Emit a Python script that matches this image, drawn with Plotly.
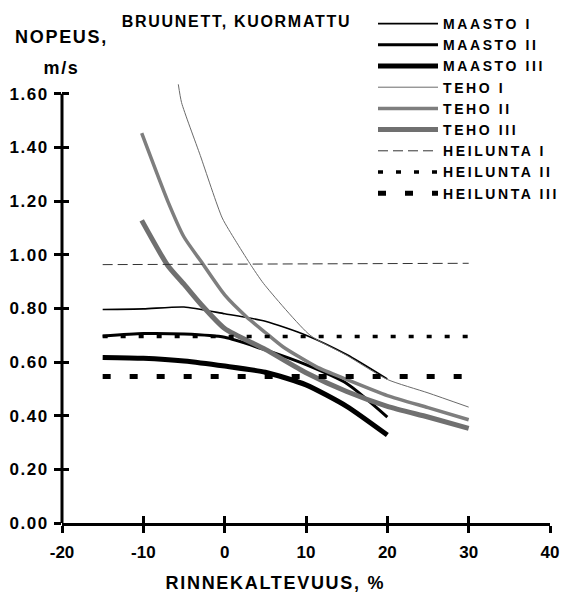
import plotly.graph_objects as go

# ---------------- data ----------------
slope_maasto = [-15, -10, -5, 0, 5, 10, 15, 20]
maasto_1 = [0.796, 0.798, 0.805, 0.780, 0.752, 0.700, 0.628, 0.537]
maasto_2 = [0.697, 0.706, 0.704, 0.692, 0.645, 0.590, 0.520, 0.395]
maasto_3 = [0.617, 0.614, 0.604, 0.585, 0.562, 0.515, 0.435, 0.328]

slope_teho_1 = [-5.7, -5.3, -3, -0.3, 1.3, 3.1, 4.8, 10.5, 15, 20, 25, 30]
teho_1 = [1.635, 1.567, 1.37, 1.137, 1.054, 0.967, 0.892, 0.700, 0.625, 0.535, 0.485, 0.432]

slope_teho_2 = [-10.2, -7, -5, -3, 0, 2.7, 5, 7.2, 11.3, 15, 20, 25, 30]
teho_2 = [1.453, 1.20, 1.066, 0.979, 0.85, 0.768, 0.71, 0.656, 0.582, 0.535, 0.475, 0.43, 0.385]

slope_teho_3 = [-10.2, -7, -5, -3, 0, 5, 10, 15, 20, 25, 30]
teho_3 = [1.128, 0.96, 0.89, 0.818, 0.725, 0.647, 0.56, 0.49, 0.435, 0.395, 0.353]

slope_heil = [-15, 30]
heil_1 = [0.963, 0.968]
heil_2 = [0.695, 0.695]
heil_3 = [0.546, 0.546]

x_ticks = [-20, -10, 0, 10, 20, 30, 40]
y_ticks = [0.0, 0.2, 0.4, 0.6, 0.8, 1.0, 1.2, 1.4, 1.6]

# ---------------- layout constants ----------------
W, H = 562, 594
ML, MR, MT, MB = 62, 12, 83, 71
FONT = "Liberation Sans, Arial, sans-serif"


def paper(xp, yp):
    return (xp - ML) / (W - ML - MR), (H - MB - yp) / (H - MT - MB)


series = [
    ("MAASTO I", slope_maasto, maasto_1, dict(color="black", width=1.6)),
    ("MAASTO II", slope_maasto, maasto_2, dict(color="black", width=3)),
    ("MAASTO III", slope_maasto, maasto_3, dict(color="black", width=5)),
    ("TEHO I", slope_teho_1, teho_1, dict(color="#6a6a6a", width=1)),
    ("TEHO II", slope_teho_2, teho_2, dict(color="#7e7e7e", width=3.5)),
    ("TEHO III", slope_teho_3, teho_3, dict(color="#707070", width=5)),
    ("HEILUNTA I", slope_heil, heil_1, dict(color="#333333", width=1, dash="10px,5px")),
    ("HEILUNTA II", slope_heil, heil_2, dict(color="black", width=3.5, dash="5px,13px")),
    ("HEILUNTA III", slope_heil, heil_3, dict(color="black", width=5, dash="8px,19px")),
]

fig = go.Figure()
for name, xs, ys, line in series:
    shape = "linear" if name.startswith("HEIL") else "spline"
    fig.add_trace(go.Scatter(
        x=xs, y=ys, name=name, mode="lines",
        line=dict(shape=shape, smoothing=0.6, **line),
        hoverinfo="skip",
    ))

# dummy trace so the overlay axes (inside half of the crossing ticks) render
fig.add_trace(go.Scatter(x=[None], y=[None], xaxis="x2", yaxis="y2",
                         showlegend=False, hoverinfo="skip"))

tickfont = dict(family=FONT, size=17, color="black", weight="bold")

fig.update_layout(
    width=W, height=H,
    margin=dict(l=ML, r=MR, t=MT, b=MB, pad=0, autoexpand=False),
    paper_bgcolor="white", plot_bgcolor="white",
    showlegend=True,
    legend=dict(
        xref="container", yref="container",
        x=373 / W, y=1 - 8 / H, xanchor="left", yanchor="top",
        font=dict(family=FONT, size=14, color="black", weight="bold"),
        itemwidth=60, bgcolor="rgba(0,0,0,0)", borderwidth=0,
        tracegroupgap=0, entrywidth=120, entrywidthmode="pixels",
    ),
    xaxis=dict(
        range=[-20, 40], tickvals=x_ticks, ticktext=[str(v) for v in x_ticks],
        showgrid=False, zeroline=False, showline=True, linecolor="black", linewidth=3,
        ticks="outside", ticklen=7, tickwidth=3, tickcolor="black",
        tickfont=tickfont, ticklabelstandoff=5,
    ),
    yaxis=dict(
        range=[0, 1.64], tickvals=y_ticks, ticktext=[f"{v:.2f}" for v in y_ticks],
        showgrid=False, zeroline=False, showline=False,
        ticks="outside", ticklen=7, tickwidth=3, tickcolor="black",
        tickfont=tickfont, ticklabelstandoff=2,
    ),
    xaxis2=dict(
        overlaying="x", anchor="y", side="bottom", range=[-20, 40], tickvals=x_ticks,
        showgrid=False, zeroline=False, showline=False, showticklabels=False,
        ticks="inside", ticklen=7, tickwidth=3, tickcolor="black",
    ),
    yaxis2=dict(
        overlaying="y", anchor="x", side="left", range=[0, 1.64], tickvals=y_ticks,
        showgrid=False, zeroline=False, showline=False, showticklabels=False,
        ticks="inside", ticklen=7, tickwidth=3, tickcolor="black",
    ),
)

# y-axis line from 0.00 up to 1.60
fig.add_shape(type="line", xref="x domain", yref="y", x0=0, x1=0,
              y0=0, y1=y_ticks[-1], line=dict(color="black", width=3), layer="above")

texts = [
    ("BRUUNETT, KUORMATTU", 236, 21, 16, "center"),
    ("NOPEUS,", 61, 37, 18, "center"),
    ("m/s", 61, 68, 18, "center"),
    ("RINNEKALTEVUUS, %", 178, 583, 18, "left"),
]
for t, xp, yp, size, anchor in texts:
    px_, py_ = paper(xp, yp)
    fig.add_annotation(text=t, x=px_, y=py_, xref="paper", yref="paper",
                       xanchor=anchor, yanchor="middle", showarrow=False,
                       font=dict(family=FONT, size=size, color="black", weight="bold"))

# the scanned original uses letter-spaced lettering
spacing_js = """
var gd = document.getElementById('{plot_id}');
gd.querySelectorAll('.legend, .legend *').forEach(function(e){ e.removeAttribute('clip-path'); });
gd.querySelectorAll('.legendtext').forEach(function(e){ e.style.letterSpacing = '2.6px'; });
gd.querySelectorAll('.annotation-text').forEach(function(e){ e.style.letterSpacing = '1.7px'; });
gd.querySelectorAll('.ytick text').forEach(function(e){ e.style.letterSpacing = '1.5px'; });
"""

fig.write_html("out.html", post_script=spacing_js)
